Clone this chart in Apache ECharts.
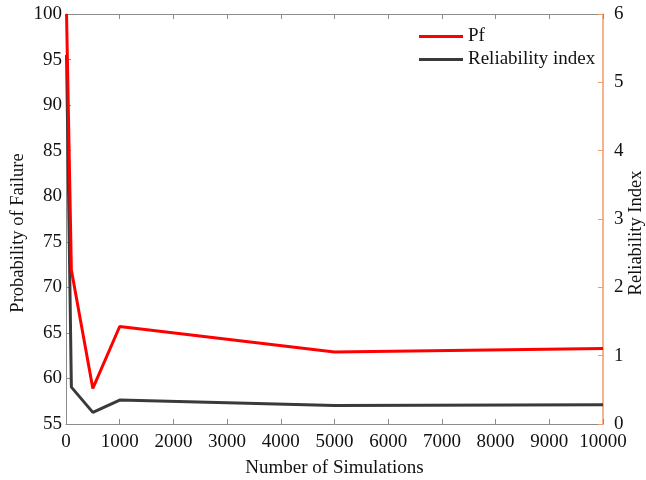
<!DOCTYPE html>
<html>
<head>
<meta charset="utf-8">
<script src="https://cdn.jsdelivr.net/npm/echarts@6/dist/echarts.min.js"></script>
<style>
  html, body { margin: 0; padding: 0; background: #fff; }
  #chart { width: 646px; height: 480px; }
</style>
</head>
<body>
<div id="chart"></div>
<script>
const simulations = [10, 100, 500, 1000, 5000, 10000]
const pfValues = [100, 71.9, 58.9, 65.7, 62.9, 63.3]
const reliabilityValues = [5.4, 0.54, 0.17, 0.35, 0.27, 0.28]

const font = 'Liberation Serif'
const axisGray = '#8c8c8c'
const axisOrange = '#f29a6a'
const fs = 19

const chart = echarts.init(document.getElementById('chart'))

// vertical axis titles sit a bit below the plot middle, so place them by hand
const sideTitle = (text, x) => ({
  type: 'text',
  x: x,
  y: 233,
  rotation: Math.PI / 2,
  style: {
    text: text,
    font: '18.5px "Liberation Serif"',
    fill: '#111',
    align: 'center',
    verticalAlign: 'middle'
  }
})

chart.setOption({
  animation: false,
  textStyle: { fontFamily: font },
  grid: { left: 66, right: 43, top: 14, bottom: 56, outerBoundsMode: 'none' },
  legend: {
    orient: 'vertical',
    left: 414,
    top: 22,
    itemGap: 4,
    itemWidth: 44,
    itemHeight: 3,
    icon: 'rect',
    textStyle: { fontFamily: font, fontSize: fs, color: '#111' },
    data: ['Pf', 'Reliability index']
  },
  graphic: [
    sideTitle('Probability of Failure', 18),
    sideTitle('Reliability Index', 636)
  ],
  xAxis: [
    {
      type: 'value',
      min: 0,
      max: 10000,
      interval: 1000,
      name: 'Number of Simulations',
      nameLocation: 'middle',
      nameGap: 35,
      nameTextStyle: { fontFamily: font, fontSize: fs, color: '#111' },
      axisLine: { onZero: false, lineStyle: { color: axisGray } },
      axisTick: { inside: true, length: 5, lineStyle: { color: axisGray } },
      axisLabel: { fontFamily: font, fontSize: fs, color: '#111', margin: 9, formatter: v => String(v) },
      splitLine: { show: false }
    },
    {
      type: 'value',
      position: 'top',
      min: 0,
      max: 10000,
      interval: 1000,
      axisLine: { show: true, onZero: false, lineStyle: { color: axisGray } },
      axisTick: { show: true, inside: true, length: 5, lineStyle: { color: axisGray } },
      axisLabel: { show: false },
      splitLine: { show: false }
    }
  ],
  yAxis: [
    {
      type: 'value',
      min: 55,
      max: 100,
      interval: 5,
      axisLine: { show: true, onZero: false, lineStyle: { color: axisGray } },
      axisTick: { show: true, inside: true, length: 5, lineStyle: { color: axisGray } },
      axisLabel: { fontFamily: font, fontSize: fs, color: '#111', margin: 4 },
      splitLine: { show: false }
    },
    {
      type: 'value',
      position: 'right',
      min: 0,
      max: 6,
      interval: 1,
      axisLine: { show: true, onZero: false, lineStyle: { color: axisOrange, width: 1.5 } },
      axisTick: { show: true, inside: true, length: 5, lineStyle: { color: axisOrange } },
      axisLabel: { fontFamily: font, fontSize: fs, color: '#111', margin: 11 },
      splitLine: { show: false }
    }
  ],
  series: [
    {
      name: 'Reliability index',
      type: 'line',
      yAxisIndex: 1,
      data: simulations.map((n, i) => [n, reliabilityValues[i]]),
      showSymbol: false,
      lineStyle: { color: '#3a3a3a', width: 3 },
      itemStyle: { color: '#3a3a3a' },
      z: 2
    },
    {
      name: 'Pf',
      type: 'line',
      yAxisIndex: 0,
      data: simulations.map((n, i) => [n, pfValues[i]]),
      showSymbol: false,
      lineStyle: { color: '#ff0000', width: 3 },
      itemStyle: { color: '#ff0000' },
      z: 3
    }
  ]
})
</script>
</body>
</html>
